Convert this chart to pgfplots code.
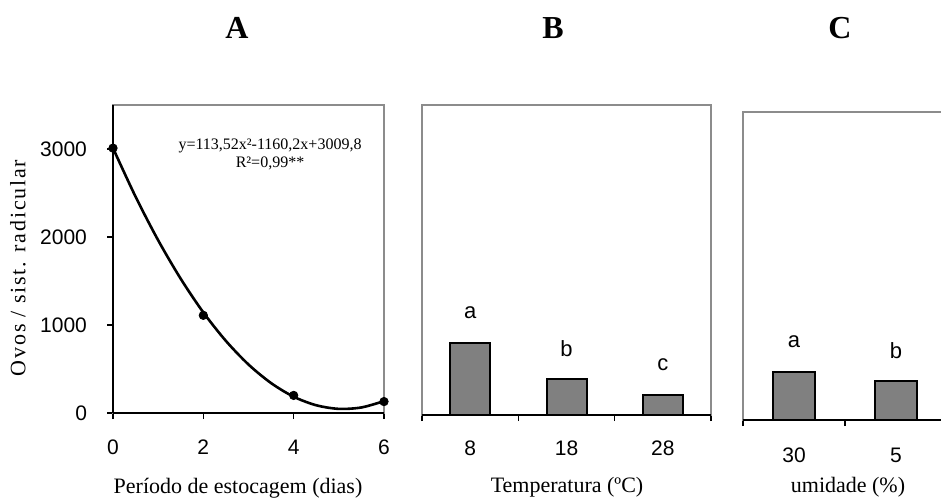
\documentclass[border=0pt]{standalone}
\usepackage{fontspec}
\setmainfont{Liberation Serif}
\newfontfamily\arial{Liberation Sans}
\usepackage{pgfplots}
\pgfplotsset{compat=1.18}
\definecolor{framegray}{HTML}{8C8C8C}
\definecolor{barfill}{HTML}{808080}

\pgfplotsset{
  panel/.style={scale only axis, anchor=south west, clip=false,
    axis line style={framegray,line width=1pt},
    tick style={black,line width=0.8pt}, tick align=outside,
    xtick pos=left, ytick pos=left, ymin=0, ymax=3500,
    ticklabel style={font=\arial\fontsize{10.5}{12}\selectfont},
    /pgf/number format/assume math mode=true,
    /pgf/number format/1000 sep={}},
  barpanel/.style={panel, ytick=\empty, xtick={0,1,2},
    major tick length=0pt, minor tick length=3pt,
    xticklabel style={anchor=center, yshift=-16.5pt},
    nodes near coords, point meta=explicit symbolic,
    every node near coord/.append style={font=\arial\fontsize{11}{13}\selectfont, anchor=center, yshift=15pt}},
  barstyle/.style={ybar, bar shift=0pt, fill=barfill, draw=black, line width=1pt}
}

\begin{document}
\begin{tikzpicture}
\useasboundingbox (0,0) rectangle (470.5pt,-251pt);
\clip (0,0) rectangle (470.5pt,-251pt);

% A
\begin{axis}[panel, at={(56.5pt,-206.5pt)}, width=135.5pt, height=154pt,
  xmin=0, xmax=6, xtick={0,2,4,6}, ytick={0,1000,2000,3000},
  major tick length=3pt,
  xticklabel style={anchor=center, yshift=-14pt},
  yticklabel style={anchor=east, xshift=-6.5pt}]
\addplot[black, line width=1.3pt, smooth] coordinates {
  (0,3010)(0.5,2458)(1,1963)(1.5,1525)(2,1143)(2.5,819)(3,551)(3.5,340)
  (4,185)(4.5,88)(5,47)(5.5,63)(6,135)};
\addplot[only marks, mark=*, mark size=2.1pt, black] coordinates {
  (0,3010)(2,1110)(4,200)(6,130)};
\draw[black,line width=1pt] (rel axis cs:0,0) -- (rel axis cs:1,0);
\draw[black,line width=1pt] (rel axis cs:0,0) -- (rel axis cs:0,1);
\end{axis}

% B
\begin{axis}[barpanel, at={(211pt,-207.5pt)}, width=144.5pt, height=155pt,
  xmin=-0.5, xmax=2.5, xticklabels={8,18,28}, minor xtick={-0.5,0.5,1.5,2.5}]
\addplot[barstyle, bar width=20pt] coordinates {(0,813) [a] (1,406) [b] (2,226) [c]};
\draw[black,line width=1pt] (rel axis cs:0,0) -- (rel axis cs:1,0);
\end{axis}

% C
\begin{axis}[barpanel, at={(371.5pt,-210pt)}, width=102pt, height=154pt,
  xmin=-0.5, xmax=1.5, xticklabels={30,5}, minor xtick={-0.5,0.5,1.5},
  xticklabel style={yshift=-1pt}]
\addplot[barstyle, bar width=21pt] coordinates {(0,545) [a] (1,443) [b]};
\draw[black,line width=1pt] (rel axis cs:0,0) -- (rel axis cs:1,0);
\end{axis}

% equation
\node[font=\fontsize{8}{9}\selectfont, align=center] at (135pt,-77pt)
  {y=113,52x²-1160,2x+3009,8\\R²=0,99**};

% titles
\node[font=\bfseries\fontsize{16}{18}\selectfont] at (118.5pt,-14pt) {A};
\node[font=\bfseries\fontsize{16}{18}\selectfont] at (276.5pt,-14pt) {B};
\node[font=\bfseries\fontsize{16}{18}\selectfont] at (420pt,-14pt) {C};

% axis labels
\node[rotate=90, font=\fontsize{11}{13}\selectfont\addfontfeature{LetterSpace=8}] at (9pt,-134pt)
  {Ovos / sist. radicular};
\node[font=\fontsize{11}{13}\selectfont] at (119pt,-244pt) {Período de estocagem (dias)};
\node[font=\fontsize{11}{13}\selectfont] at (283.5pt,-243.5pt) {Temperatura (ºC)};
\node[font=\fontsize{11}{13}\selectfont] at (424pt,-243.5pt) {umidade (\%)};
\end{tikzpicture}
\end{document}
